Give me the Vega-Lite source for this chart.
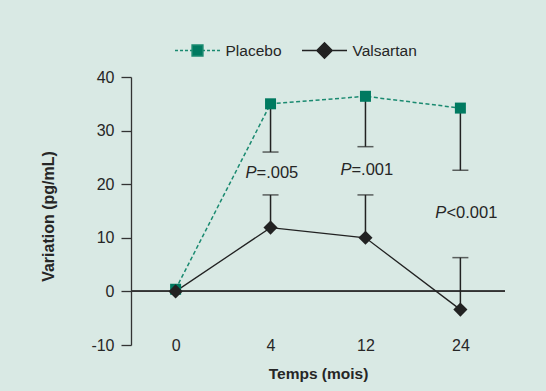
{
  "$schema": "https://vega.github.io/schema/vega-lite/v6.json",
  "width": 374,
  "height": 268,
  "autosize": {"type": "none"},
  "padding": {"left": 131, "top": 77, "right": 41, "bottom": 46},
  "background": "#d9e9e4",
  "config": {
    "view": {"stroke": null},
    "font": "Liberation Sans",
    "axis": {"grid": false, "labelColor": "#262626", "titleColor": "#262626", "domainColor": "#333333", "tickColor": "#333333", "labelFont": "Liberation Sans", "titleFont": "Liberation Sans"},
    "legend": {"labelFont": "Liberation Sans", "labelFontSize": 15.5, "labelColor": "#262626", "labelOffset": 4.5, "padding": 0, "symbolStrokeWidth": 1.5, "symbolOpacity": 1}
  },
  "resolve": {"scale": {"color": "independent"}, "legend": {"color": "independent"}},
  "datasets": {
    "series": [
      {"serie": "Placebo", "t": "0", "v": 0.4},
      {"serie": "Placebo", "t": "4", "v": 35.0},
      {"serie": "Placebo", "t": "12", "v": 36.4},
      {"serie": "Placebo", "t": "24", "v": 34.2},
      {"serie": "Valsartan", "t": "0", "v": 0},
      {"serie": "Valsartan", "t": "4", "v": 11.9},
      {"serie": "Valsartan", "t": "12", "v": 10.0},
      {"serie": "Valsartan", "t": "24", "v": -3.4}
    ],
    "err": [
      {"serie": "Placebo", "t": "4", "v": 35.0, "b": 26.0},
      {"serie": "Placebo", "t": "12", "v": 36.4, "b": 27.0},
      {"serie": "Placebo", "t": "24", "v": 34.2, "b": 22.6},
      {"serie": "Valsartan", "t": "4", "v": 11.9, "b": 18.0},
      {"serie": "Valsartan", "t": "12", "v": 10.0, "b": 18.0},
      {"serie": "Valsartan", "t": "24", "v": -3.4, "b": 6.3}
    ],
    "pvals": [
      {"t": "4", "y": 22.1, "rest": "=.005"},
      {"t": "12", "y": 22.6, "rest": "=.001"},
      {"t": "24", "y": 14.6, "rest": "<0.001"}
    ]
  },
  "encoding": {
    "x": {
      "field": "t", "type": "ordinal", "sort": ["0", "4", "12", "24"],
      "scale": {"type": "point", "domain": ["0", "4", "12", "24"], "padding": 0.47},
      "axis": {
        "title": "Temps (mois)", "domain": false, "ticks": false, "tickSize": 0,
        "labelAngle": 0, "labelBaseline": "middle", "labelPadding": 0, "labelFontSize": 16,
        "titleFontSize": 15.5, "titleFontWeight": "bold", "titleX": 187, "titleY": 28,
        "titleBaseline": "middle", "titleAlign": "center"
      }
    }
  },
  "layer": [
    {
      "data": {"name": "series"},
      "mark": {"type": "rule", "color": "#333333", "strokeWidth": 1.3},
      "encoding": {"x": null, "y": {"datum": 0, "type": "quantitative"}}
    },
    {
      "data": {"name": "series"},
      "transform": [{"filter": "datum.serie === 'Placebo'"}],
      "mark": {"type": "line", "strokeWidth": 1.5, "color": "#1a8a70", "strokeDash": [4, 2.5]},
      "encoding": {
        "y": {
          "field": "v", "type": "quantitative",
          "scale": {"domain": [-10, 40], "nice": false, "zero": false},
          "axis": {
            "values": [-10, 0, 10, 20, 30, 40], "title": "Variation (pg/mL)",
            "labelExpr": "'' + datum.value",
            "tickSize": 10, "labelPadding": 7, "labelFontSize": 16, "domainWidth": 1.3, "tickWidth": 1.3,
            "titleFontSize": 16, "titleFontWeight": "bold", "titleX": -83, "titleY": 139,
            "titleAngle": -90, "titleAlign": "center", "titleBaseline": "middle"
          }
        }
      }
    },
    {
      "data": {"name": "series"},
      "transform": [{"filter": "datum.serie === 'Valsartan'"}],
      "mark": {"type": "line", "strokeWidth": 1.3, "color": "#222222"},
      "encoding": {"y": {"field": "v", "type": "quantitative"}}
    },
    {
      "data": {"name": "err"},
      "mark": {"type": "rule", "color": "#222222", "strokeWidth": 1.5},
      "encoding": {"y": {"field": "v", "type": "quantitative"}, "y2": {"field": "b"}}
    },
    {
      "data": {"name": "err"},
      "mark": {"type": "tick", "orient": "horizontal", "color": "#222222", "size": 16, "thickness": 1.5},
      "encoding": {"y": {"field": "b", "type": "quantitative"}}
    },
    {
      "data": {"name": "series"},
      "transform": [{"filter": "datum.serie === 'Placebo'"}],
      "mark": {"type": "point", "filled": true, "opacity": 1, "shape": "square", "size": 121},
      "encoding": {
        "y": {"field": "v", "type": "quantitative"},
        "color": {
          "field": "serie", "type": "nominal",
          "scale": {"domain": ["Placebo"], "range": ["#007a60"]},
          "legend": {
            "title": null, "orient": "none", "legendX": 43, "legendY": -50,
            "symbolType": "M-1,0H-0.867M-0.778,0H-0.644M-0.556,0H-0.422M-0.333,0H-0.25M0.25,0H0.333M0.422,0H0.556M0.644,0H0.778M0.867,0H1M-0.24,-0.24H0.24V0.24H-0.24Z",
            "symbolSize": 2025, "symbolFillColor": "#007a60", "symbolStrokeColor": "#1a8a70"
          }
        }
      }
    },
    {
      "data": {"name": "series"},
      "transform": [{"filter": "datum.serie === 'Valsartan'"}],
      "mark": {"type": "point", "filled": true, "opacity": 1, "shape": "diamond", "size": 200},
      "encoding": {
        "y": {"field": "v", "type": "quantitative"},
        "color": {
          "field": "serie", "type": "nominal",
          "scale": {"domain": ["Valsartan"], "range": ["#222222"]},
          "legend": {
            "title": null, "orient": "none", "legendX": 170, "legendY": -50,
            "symbolType": "M-1,0H1M-0.34,0L0,-0.34L0.34,0L0,0.34Z",
            "symbolSize": 2025, "symbolFillColor": "#222222", "symbolStrokeColor": "#222222"
          }
        }
      }
    },
    {
      "data": {"name": "pvals"},
      "mark": {"type": "text", "text": "P", "fontStyle": "italic", "fontSize": 16.5, "align": "right", "baseline": "middle", "dx": -14, "color": "#262626"},
      "encoding": {"y": {"field": "y", "type": "quantitative"}}
    },
    {
      "data": {"name": "pvals"},
      "mark": {"type": "text", "fontSize": 16.5, "align": "left", "baseline": "middle", "dx": -14, "color": "#262626"},
      "encoding": {"y": {"field": "y", "type": "quantitative"}, "text": {"field": "rest"}}
    }
  ]
}
